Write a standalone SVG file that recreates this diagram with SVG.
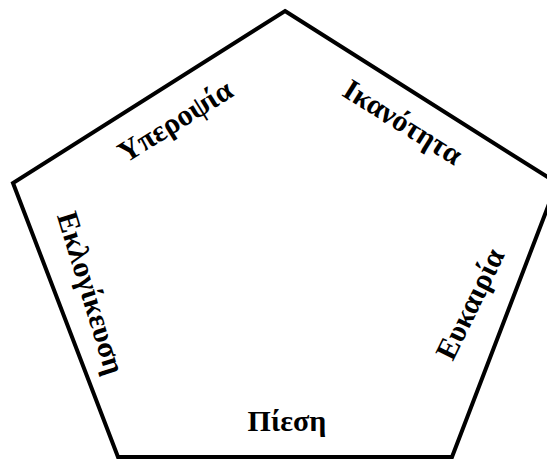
<svg xmlns="http://www.w3.org/2000/svg" width="547" height="459" viewBox="0 0 547 459">
<style>
.lbl{font-family:"Liberation Serif","Times New Roman",serif;font-weight:bold;font-size:30px;fill:#000;text-anchor:middle}
.edge{fill:none;stroke:#000;stroke-width:4;stroke-linejoin:miter}
</style>
<rect width="547" height="459" fill="#fff"/>
<g id="pentagon">
<polygon class="edge" points="285,11 557,183 452,457 118,457 13,183"/>
</g>
<g id="connectors"></g>
<g id="n-yperopsia" transform="translate(175,121) rotate(-32)"><text class="lbl" y="10">Υπεροψία</text></g>
<g id="n-ikanotita" transform="translate(403,122) rotate(32)"><text class="lbl" y="10">Ικανότητα</text></g>
<g id="n-eklogikeusi" transform="translate(91,293) rotate(73)"><text class="lbl" y="10">Εκλογίκευση</text></g>
<g id="n-eukairia" transform="translate(470,304) rotate(-64)"><text class="lbl" y="10">Ευκαιρία</text></g>
<g id="n-piesi"><text class="lbl" x="287" y="431">Πίεση</text></g>
</svg>
